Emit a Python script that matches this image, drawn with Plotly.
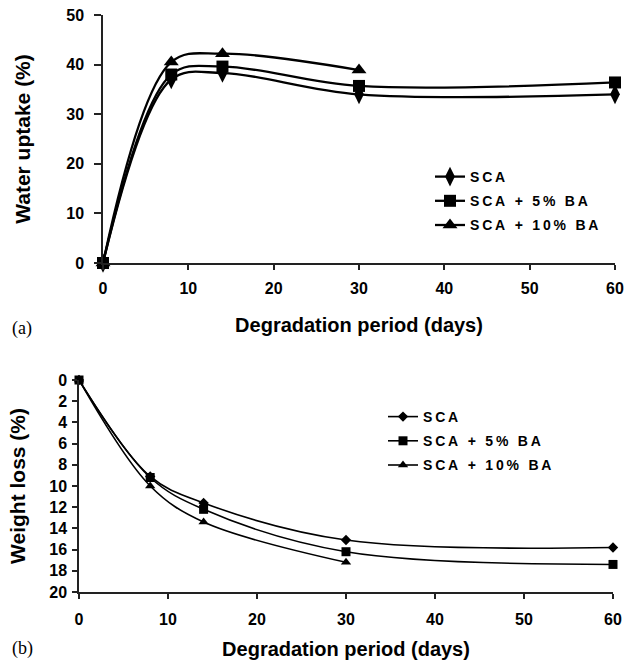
import plotly.graph_objects as go

days = [0, 8, 14, 30, 60]
days_10 = [0, 8, 14, 30]

water_sca = [0, 37.0, 38.3, 34.0, 34.0]
water_5ba = [0, 38.0, 39.6, 35.7, 36.4]
water_10ba = [0, 40.5, 42.2, 38.9]

loss_sca = [0, 9.1, 11.6, 15.1, 15.8]
loss_5ba = [0, 9.2, 12.2, 16.2, 17.4]
loss_10ba = [0, 10.0, 13.4, 17.2]

names = ["SCA", "SCA + 5% BA", "SCA + 10% BA"]
x_ticks = [0, 10, 20, 30, 40, 50, 60]
water_ticks = [0, 10, 20, 30, 40, 50]
loss_ticks = [0, 2, 4, 6, 8, 10, 12, 14, 16, 18, 20]

W, H = 627, 661
FONT = "Arial, Liberation Sans, sans-serif"
SERIF = "Times New Roman, Liberation Serif, serif"


def spaced(s):
    return "\u2009".join(list(s))


fig = go.Figure()

top_series = [(days, water_sca, "diamond-tall", 14), (days, water_5ba, "square", 12),
              (days_10, water_10ba, "triangle-up", 13)]
for i, (xs, ys, sym, sz) in enumerate(top_series):
    fig.add_trace(go.Scatter(
        x=xs, y=ys, name=spaced(names[i]), mode="lines+markers",
        line=dict(color="black", width=2.3, shape="spline", smoothing=1.0),
        marker=dict(symbol=sym, size=sz, color="black"),
        cliponaxis=False, xaxis="x", yaxis="y", legend="legend", legendgroup="a%d" % i))

bot_series = [(days, loss_sca, "diamond", 8), (days, loss_5ba, "square", 9),
              (days_10, loss_10ba, "triangle-up", 9)]
for i, (xs, ys, sym, sz) in enumerate(bot_series):
    fig.add_trace(go.Scatter(
        x=xs, y=ys, name=spaced(names[i]), mode="lines+markers",
        line=dict(color="black", width=1.6, shape="spline", smoothing=1.0),
        marker=dict(symbol=sym, size=sz, color="black"),
        cliponaxis=False, xaxis="x2", yaxis="y2", legend="legend2", legendgroup="b%d" % i))

tickfont = dict(family=FONT, size=16, color="black", weight="bold")
xtitlefont = dict(family=FONT, size=20, color="black", weight="bold")
ytitlefont = dict(family=FONT, size=21, color="black", weight="bold")
axis_common = dict(showgrid=False, zeroline=False, showline=True, linecolor="#222",
                   linewidth=1.5, ticks="outside", tickcolor="#222", tickwidth=1.5,
                   tickfont=tickfont, automargin=False, fixedrange=True)

fig.update_layout(
    width=W, height=H, template="none",
    paper_bgcolor="white", plot_bgcolor="white",
    margin=dict(l=0, r=0, t=0, b=0),
    xaxis=dict(domain=[103 / W, 615 / W], range=[0, 60], tickvals=x_ticks, ticklen=5,
               ticklabelstandoff=5, anchor="y",
               title=dict(text="Degradation period (days)", font=xtitlefont, standoff=22),
               **axis_common),
    yaxis=dict(domain=[1 - 263 / H, 1 - 15 / H], range=[0, 50], tickvals=water_ticks, ticklen=7,
               ticklabelstandoff=7, anchor="x",
               title=dict(text="Water uptake (%)", font=ytitlefont, standoff=30),
               **axis_common),
    xaxis2=dict(domain=[79 / W, 613 / W], range=[0, 60], tickvals=x_ticks, ticklen=5,
                ticklabelstandoff=7, anchor="y2",
                title=dict(text="Degradation period (days)", font=xtitlefont, standoff=15),
                **axis_common),
    yaxis2=dict(domain=[1 - 592 / H, 1 - 380 / H], range=[20, 0], tickvals=loss_ticks, ticklen=5,
                ticklabelstandoff=2, anchor="x2",
                title=dict(text="Weight loss (%)", font=ytitlefont, standoff=18),
                **axis_common),
    legend=dict(x=430 / W, y=1 - 161 / H, xanchor="left", yanchor="top",
                bgcolor="rgba(0,0,0,0)", borderwidth=0, tracegroupgap=3,
                font=dict(family=FONT, size=14, color="black", weight="bold")),
    legend2=dict(x=383 / W, y=1 - 401 / H, xanchor="left", yanchor="top",
                 bgcolor="rgba(0,0,0,0)", borderwidth=0, tracegroupgap=3,
                 font=dict(family=FONT, size=14, color="black", weight="bold")),
    annotations=[
        dict(text="(a)", x=10 / W, y=1 - 328 / H, xref="paper", yref="paper",
             xanchor="left", yanchor="middle", showarrow=False,
             font=dict(family=SERIF, size=18, color="black")),
        dict(text="(b)", x=10 / W, y=1 - 648 / H, xref="paper", yref="paper",
             xanchor="left", yanchor="middle", showarrow=False,
             font=dict(family=SERIF, size=18, color="black")),
    ],
)

fig.write_html("out.html", config={"displayModeBar": False},
               post_script="document.body.style.margin='0';document.body.style.overflow='hidden';")
